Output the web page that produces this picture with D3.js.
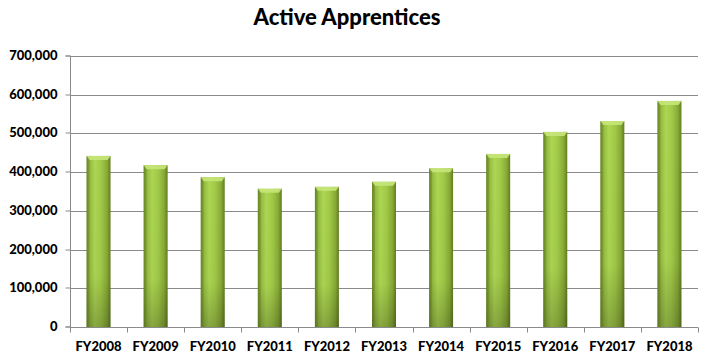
<!DOCTYPE html>
<html><head><meta charset="utf-8">
<script src="https://cdn.jsdelivr.net/npm/d3@7"></script>
<style>
html,body{margin:0;padding:0;background:#fff;}
svg{display:block;}
text{font-family:Lato,"Open Sans",sans-serif;font-weight:900;fill:#000;}
</style></head>
<body>
<svg id="chart" width="713" height="364"></svg>
<script>
const categories = ["FY2008","FY2009","FY2010","FY2011","FY2012","FY2013","FY2014","FY2015","FY2016","FY2017","FY2018"];
const apprentices = [442000,418000,387000,357000,362000,375000,410000,447000,504000,532000,584000];
const yTicks = [0,100000,200000,300000,400000,500000,600000,700000];
const titleText = "Active Apprentices";

const svg = d3.select("#chart");
const m = {left:70, right:15, top:56, bottom:37};
const W = 713, H = 364;
const x = d3.scaleBand().domain(categories).range([m.left, W - m.right]).paddingInner(0.58).paddingOuter(0.29);
const xb = d3.scaleBand().domain(categories).range([m.left, W - m.right]);
const y = d3.scaleLinear().domain([0,700000]).range([H - m.bottom, m.top]);

const defs = svg.append("defs");
const g1 = defs.append("linearGradient").attr("id","barH").attr("x1","0").attr("x2","1").attr("y1","0").attr("y2","0");
[["0%","#6f8d2a"],["12%","#92b83e"],["35%","#add653"],["60%","#a2ca48"],["85%","#88ab36"],["100%","#627d22"]]
  .forEach(s=>g1.append("stop").attr("offset",s[0]).attr("stop-color",s[1]));
const g2 = defs.append("linearGradient").attr("id","barV").attr("x1","0").attr("x2","0").attr("y1","0").attr("y2","1");
[["0%","#000",0],["70%","#000",0.02],["100%","#000",0.22]]
  .forEach(s=>g2.append("stop").attr("offset",s[0]).attr("stop-color",s[1]).attr("stop-opacity",s[2]));

// title
svg.append("text").attr("x",347).attr("y",25).attr("text-anchor","middle")
  .style("font-size","22px").text(titleText);

// gridlines
svg.append("g").selectAll("line").data(yTicks.slice(1)).join("line")
  .attr("x1",m.left).attr("x2",W - m.right)
  .attr("y1",d=>Math.round(y(d))+0.5).attr("y2",d=>Math.round(y(d))+0.5)
  .attr("stroke","#8a8a8a").attr("stroke-width",1);

// y axis
const yAxis = d3.axisLeft(y).tickValues(yTicks).tickSize(5).tickPadding(8)
  .tickFormat(d3.format(","));
const ya = svg.append("g").attr("transform",`translate(${m.left+0.5},0)`).call(yAxis);
ya.selectAll("path,line").attr("stroke","#8a8a8a");
ya.select(".domain").attr("d",`M-5,${y(700000)}H0V${y(0)}H-5`);
ya.selectAll("text").style("font-size","13px").style("font-family","Lato,sans-serif").style("font-weight","900").attr("fill","#000");
ya.selectAll(".tick").attr("transform",d=>`translate(0,${Math.round(y(d))})`);

// bars
const bars = svg.append("g").selectAll("g").data(categories).join("g");
bars.append("rect").attr("x",d=>x(d)).attr("width",x.bandwidth())
  .attr("y",(d,i)=>y(apprentices[i])).attr("height",(d,i)=>y(0)-y(apprentices[i]))
  .attr("fill","url(#barH)");
bars.append("rect").attr("x",d=>x(d)).attr("width",x.bandwidth())
  .attr("y",(d,i)=>y(apprentices[i])).attr("height",(d,i)=>y(0)-y(apprentices[i]))
  .attr("fill","url(#barV)");
// top bevel
bars.append("path").attr("d",(d,i)=>{
  const x0=x(d), w=x.bandwidth(), t=y(apprentices[i]);
  return `M${x0},${t}H${x0+w}L${x0+w-3},${t+4}H${x0+3}Z`;
}).attr("fill","#c8e67a").attr("opacity",0.9);
bars.append("path").attr("d",(d,i)=>{
  const x0=x(d), w=x.bandwidth(), t=y(apprentices[i]);
  return `M${x0},${t}L${x0+3},${t+4}V${y(0)}H${x0}Z`;
}).attr("fill","#5f7a20").attr("opacity",0.35);

// x axis
const xAxis = d3.axisBottom(xb).tickSize(0).tickPadding(14);
const xa = svg.append("g").attr("transform",`translate(0,${Math.round(y(0))+0.5})`).call(xAxis);
xa.select(".domain").attr("stroke","#8a8a8a").attr("d",`M${m.left},0H${W-m.right}`);
xa.selectAll("text").style("font-size","13px").style("font-family","Lato,sans-serif").style("font-weight","900").attr("fill","#000");
// boundary ticks
xa.append("g").selectAll("line").data(d3.range(categories.length+1)).join("line")
  .attr("x1",i=>Math.round(m.left + i*xb.step())+0.5).attr("x2",i=>Math.round(m.left + i*xb.step())+0.5)
  .attr("y1",0).attr("y2",5).attr("stroke","#8a8a8a");
</script>
</body></html>
